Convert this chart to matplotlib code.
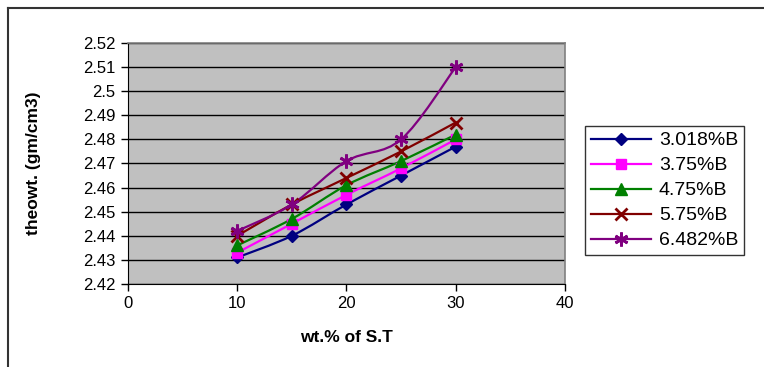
import numpy as np
import matplotlib
matplotlib.use("Agg")
import matplotlib.pyplot as plt
from matplotlib.path import Path
from matplotlib.patches import PathPatch
from matplotlib.lines import Line2D

plt.rcParams['font.family'] = ['Liberation Sans', 'DejaVu Sans']

wt = [10, 15, 20, 25, 30]
b3018 = [2.431, 2.440, 2.453, 2.465, 2.477]
b375 = [2.433, 2.445, 2.457, 2.468, 2.480]
b475 = [2.436, 2.447, 2.461, 2.471, 2.482]
b575 = [2.440, 2.453, 2.464, 2.475, 2.487]
b6482 = [2.442, 2.453, 2.471, 2.480, 2.510]
names = ["3.018%B", "3.75%B", "4.75%B", "5.75%B", "6.482%B"]

series = [b3018, b375, b475, b575, b6482]
colors = ["#000080", "#FF00FF", "#008000", "#800000", "#800080"]
markers = ["D", "s", "^", "x", (6, 2, 0)]
msizes = [6, 6.5, 8.5, 8.5, 10]


def smooth_path(x, y):
    # excel-style smoothed line: bezier segments through the points
    pts = np.column_stack([x, y]).astype(float)
    verts = [pts[0]]
    codes = [Path.MOVETO]
    n = len(pts)
    for i in range(n - 1):
        p0 = pts[i - 1] if i > 0 else pts[i]
        p1 = pts[i]
        p2 = pts[i + 1]
        p3 = pts[i + 2] if i + 2 < n else pts[i + 1]
        c1 = p1 + (p2 - p0) / 6.0
        c2 = p2 - (p3 - p1) / 6.0
        verts += [c1, c2, p2]
        codes += [Path.CURVE4] * 3
    return Path(verts, codes)


fig = plt.figure(figsize=(7.64, 3.67), dpi=100)
ax = fig.add_axes([0.1675, 0.2262, 0.572, 0.6566])
ax.set_facecolor("#C0C0C0")

handles = []
for ys, c, m, ms, lab in zip(series, colors, markers, msizes, names):
    ax.add_patch(PathPatch(smooth_path(wt, ys), facecolor="none",
                           edgecolor=c, lw=1.6, zorder=3))
    mew = 2 if m in ("x",) or isinstance(m, tuple) else 1
    ax.plot(wt, ys, ls="none", marker=m, ms=ms, color=c, mec=c, mew=mew, zorder=4)
    handles.append(Line2D([], [], color=c, lw=1.6, marker=m, ms=ms, mec=c, mew=mew))

yt = np.round(np.arange(2.42, 2.5201, 0.01), 2)
ax.set_xlim(0, 40)
ax.set_ylim(2.42, 2.52)
ax.set_xticks([0, 10, 20, 30, 40])
ax.set_yticks(yt)
ax.set_yticklabels([f"{v:g}" for v in yt])
ax.tick_params(direction="out", length=5, width=1, labelsize=12, pad=4)
ax.yaxis.grid(True, color="black", lw=1)
ax.set_axisbelow(True)
for s in ("top", "right"):
    ax.spines[s].set_color("#808080")
    ax.spines[s].set_linewidth(1.2)
for s in ("left", "bottom"):
    ax.spines[s].set_color("black")

ax.set_xlabel("wt.% of S.T", fontsize=12.5, fontweight="bold", labelpad=13)
ax.set_ylabel("theowt. (gm/cm3)", fontsize=12.5, fontweight="bold", labelpad=30)

leg = fig.legend(handles, names, loc="upper left",
                 bbox_to_anchor=(585 / 764, 1 - 126 / 367),
                 fontsize=14, frameon=True, fancybox=False, handlelength=3.1,
                 borderpad=0.3, labelspacing=0.38, handletextpad=0.4,
                 borderaxespad=0)
leg.get_frame().set_edgecolor("black")
leg.get_frame().set_linewidth(1)

# outer chart border (top and left only visible)
fig.add_artist(Line2D([8 / 764, 763 / 764], [1 - 8 / 367, 1 - 8 / 367],
                      color="#333333", lw=1.5, transform=fig.transFigure))
fig.add_artist(Line2D([8 / 764, 8 / 764], [1 - 8 / 367, 0],
                      color="#333333", lw=1.5, transform=fig.transFigure))

fig.savefig("out.png", dpi=100)
